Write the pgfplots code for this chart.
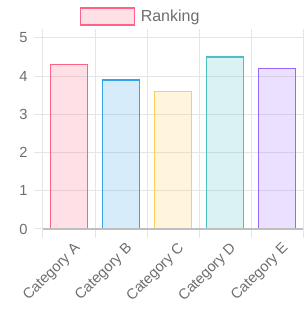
\documentclass[border=0pt]{standalone}
\usepackage{pgfplots}
\pgfplotsset{compat=1.18}
\usepackage{fontspec}
\setmainfont{Liberation Sans}
\definecolor{cA}{RGB}{255,99,132}
\definecolor{cB}{RGB}{54,162,235}
\definecolor{cC}{RGB}{255,206,86}
\definecolor{cD}{RGB}{75,192,192}
\definecolor{cE}{RGB}{153,102,255}
\definecolor{txt}{RGB}{110,110,110}
\definecolor{gridc}{RGB}{229,229,229}
\begin{document}
\begin{tikzpicture}
\begin{axis}[
  at={(0,0)}, anchor=south west,
  scale only axis, width=195pt, height=143.25pt,
  xmin=-0.5, xmax=4.5, ymin=0, ymax=5,
  ytick={0,1,2,3,4,5},
  xtick={-0.5,0.5,1.5,2.5,3.5,4.5},
  xticklabels={},
  extra x ticks={0,1,2,3,4},
  extra x tick labels={Category A,Category B,Category C,Category D,Category E},
  extra x tick style={major tick length=0pt, grid=none, xticklabel style={rotate=45, anchor=north east, xshift=-1pt, yshift=-5.5pt}},
  ymajorgrids, xmajorgrids,
  grid style={gridc, line width=0.75pt},
  axis line style={draw=none},
  tick align=outside,
  major tick length=7pt,
  tick style={gridc, line width=0.75pt},
  /pgf/number format/assume math mode=true,
  tick label style={font=\fontsize{11}{13}\selectfont, text=txt},
  yticklabel style={xshift=-1pt},
  legend style={at={(27.75pt,159.35pt)}, anchor=west, draw=none, fill=none, inner sep=0pt,
     font=\fontsize{12}{14}\selectfont, text=txt, legend cell align=left},
  every axis legend/.append style={nodes={inner xsep=4pt}},
  ybar, bar width=27.75pt, bar shift=0pt,
  clip=false,
]
\addplot[draw=cA, fill=cA, fill opacity=0.2, line width=0.9pt,
  legend image code/.code={\draw[cA, line width=0.9pt, fill=cA, fill opacity=0.2] (0pt,-6.375pt) rectangle (40.5pt,6.375pt);}] coordinates {(0,4.3)};
\addlegendentry{Ranking}
\addplot[draw=cB, fill=cB, fill opacity=0.2, line width=0.9pt, forget plot] coordinates {(1,3.9)};
\addplot[draw=cC, fill=cC, fill opacity=0.2, line width=0.9pt, forget plot] coordinates {(2,3.6)};
\addplot[draw=cD, fill=cD, fill opacity=0.2, line width=0.9pt, forget plot] coordinates {(3,4.5)};
\addplot[draw=cE, fill=cE, fill opacity=0.2, line width=0.9pt, forget plot] coordinates {(4,4.2)};
\draw[black!25, line width=1pt] (axis cs:-0.5,0) -- (axis cs:4.5,0);
\end{axis}
\pgfresetboundingbox
\path[use as bounding box] (-32.25pt,-66pt) rectangle (195pt,171.75pt);
\end{tikzpicture}
\end{document}
